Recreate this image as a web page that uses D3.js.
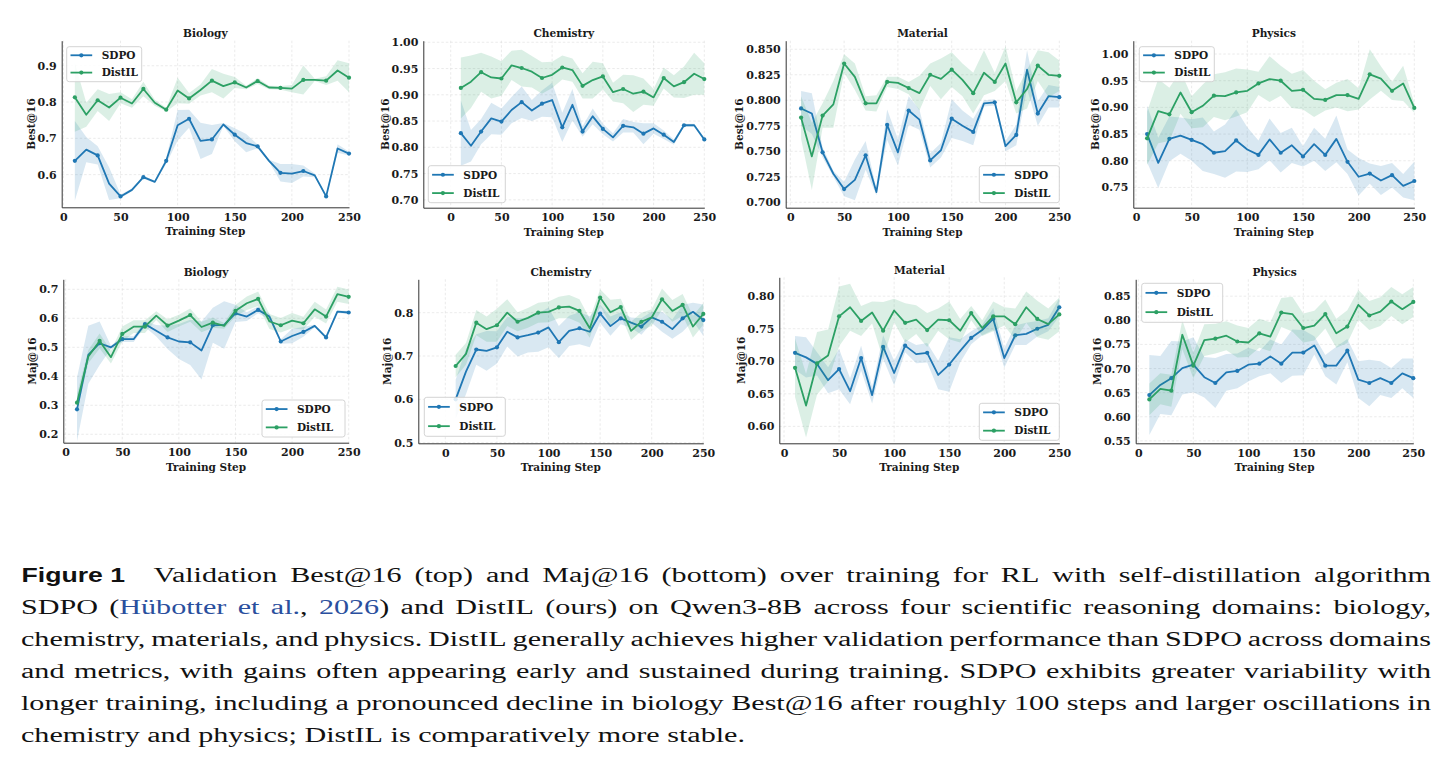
<!DOCTYPE html>
<html><head><meta charset="utf-8">
<script src="https://cdn.jsdelivr.net/npm/d3@7"></script>
<style>body{margin:0;background:#fff}svg{display:block}</style>
</head><body>
<svg id="c" width="1450" height="768"></svg>
<script>
// ---------------- DATA ----------------
const steps = [10,20,30,40,50,60,70,80,90,100,110,120,130,140,150,160,170,180,190,200,210,220,230,240,250];
const xTicks = [0,50,100,150,200,250];
const seriesNames = ["SDPO","DistIL"];
const panelTitles = ["Biology","Chemistry","Material","Physics"];
const metricLabels = ["Best@16","Maj@16"];

// Best@16 (top row)
const bioBestSDPO    = [0.638,0.669,0.653,0.575,0.540,0.558,0.593,0.580,0.638,0.736,0.754,0.693,0.697,0.738,0.710,0.687,0.678,0.638,0.605,0.603,0.610,0.598,0.540,0.672,0.658];
const bioBestSDPOsd  = [0.110,0.035,0.025,0.045,0.005,0.004,0.004,0.003,0.008,0.042,0.025,0.050,0.040,0.004,0.018,0.025,0.005,0.003,0.024,0.026,0.015,0.005,0.003,0.012,0.005];
const bioBestDistIL  = [0.813,0.765,0.805,0.785,0.812,0.796,0.836,0.798,0.779,0.832,0.810,0.833,0.859,0.844,0.854,0.840,0.858,0.840,0.839,0.837,0.861,0.861,0.859,0.887,0.867];
const bioBestDistILsd= [0.095,0.033,0.030,0.037,0.015,0.012,0.020,0.008,0.005,0.035,0.015,0.015,0.032,0.034,0.015,0.005,0.008,0.005,0.005,0.010,0.040,0.003,0.012,0.028,0.040];
const bioBestTicks   = [0.6,0.7,0.8,0.9];

const chemBestSDPO    = [0.827,0.803,0.830,0.855,0.849,0.871,0.886,0.870,0.883,0.890,0.838,0.881,0.830,0.859,0.835,0.819,0.841,0.838,0.826,0.836,0.824,0.810,0.842,0.842,0.815];
const chemBestSDPOsd  = [0.062,0.030,0.024,0.030,0.025,0.025,0.030,0.020,0.025,0.033,0.028,0.030,0.010,0.015,0.010,0.008,0.013,0.010,0.020,0.010,0.008,0.005,0.003,0.003,0.003];
const chemBestDistIL  = [0.913,0.925,0.943,0.933,0.931,0.956,0.951,0.944,0.932,0.938,0.952,0.947,0.917,0.928,0.935,0.905,0.911,0.902,0.906,0.895,0.932,0.916,0.924,0.940,0.930];
const chemBestDistILsd= [0.058,0.050,0.037,0.040,0.033,0.028,0.035,0.030,0.030,0.025,0.023,0.022,0.024,0.035,0.025,0.018,0.027,0.035,0.025,0.016,0.020,0.021,0.030,0.040,0.030];
const chemBestTicks   = [0.70,0.75,0.80,0.85,0.90,0.95,1.00];

const matBestSDPO    = [0.792,0.787,0.749,0.728,0.713,0.722,0.746,0.710,0.776,0.749,0.790,0.781,0.741,0.751,0.782,0.775,0.769,0.797,0.798,0.755,0.766,0.830,0.787,0.804,0.803];
const matBestSDPOsd  = [0.017,0.020,0.005,0.003,0.007,0.020,0.014,0.003,0.015,0.013,0.014,0.010,0.007,0.007,0.019,0.015,0.013,0.003,0.003,0.005,0.010,0.019,0.012,0.011,0.010];
const matBestDistIL  = [0.783,0.745,0.785,0.796,0.836,0.823,0.797,0.797,0.818,0.817,0.812,0.807,0.825,0.821,0.830,0.820,0.807,0.827,0.818,0.836,0.798,0.811,0.834,0.825,0.824];
const matBestDistILsd= [0.021,0.033,0.012,0.023,0.009,0.013,0.007,0.008,0.005,0.006,0.006,0.017,0.011,0.020,0.017,0.016,0.020,0.022,0.009,0.017,0.011,0.019,0.015,0.022,0.015];
const matBestTicks   = [0.700,0.725,0.750,0.775,0.800,0.825,0.850];

const physBestSDPO    = [0.850,0.796,0.841,0.847,0.839,0.831,0.815,0.818,0.838,0.821,0.811,0.840,0.815,0.829,0.808,0.831,0.811,0.841,0.798,0.770,0.776,0.763,0.773,0.753,0.762];
const physBestSDPOsd  = [0.053,0.047,0.042,0.034,0.039,0.050,0.040,0.050,0.058,0.042,0.027,0.039,0.037,0.033,0.019,0.031,0.030,0.044,0.023,0.035,0.019,0.027,0.023,0.022,0.036];
const physBestDistIL  = [0.842,0.893,0.887,0.928,0.891,0.903,0.922,0.921,0.928,0.931,0.945,0.953,0.950,0.931,0.933,0.916,0.914,0.923,0.923,0.916,0.962,0.954,0.931,0.945,0.899];
const physBestDistILsd= [0.050,0.060,0.050,0.040,0.030,0.040,0.040,0.045,0.045,0.040,0.022,0.043,0.028,0.032,0.037,0.034,0.020,0.023,0.030,0.020,0.047,0.023,0.017,0.033,0.009];
const physBestTicks   = [0.75,0.80,0.85,0.90,0.95,1.00];

// Maj@16 (bottom row)
const bioMajSDPO    = [0.286,0.474,0.514,0.500,0.528,0.528,0.580,0.557,0.534,0.520,0.517,0.489,0.576,0.577,0.617,0.606,0.629,0.606,0.520,0.539,0.553,0.574,0.534,0.623,0.620];
const bioMajSDPOsd  = [0.110,0.100,0.075,0.005,0.010,0.010,0.010,0.020,0.040,0.060,0.078,0.100,0.060,0.082,0.030,0.015,0.012,0.010,0.008,0.025,0.017,0.005,0.005,0.005,0.005];
const bioMajDistIL  = [0.309,0.468,0.522,0.466,0.546,0.571,0.571,0.609,0.575,0.592,0.611,0.570,0.585,0.574,0.626,0.652,0.667,0.589,0.576,0.592,0.583,0.631,0.606,0.683,0.674];
const bioMajDistILsd= [0.030,0.023,0.026,0.022,0.026,0.022,0.022,0.015,0.022,0.020,0.023,0.018,0.018,0.010,0.020,0.023,0.025,0.026,0.025,0.026,0.022,0.026,0.024,0.026,0.025];
const bioMajTicks   = [0.2,0.3,0.4,0.5,0.6,0.7];

const chemMajSDPO    = [0.600,0.664,0.715,0.712,0.720,0.756,0.743,0.748,0.754,0.766,0.732,0.758,0.764,0.756,0.798,0.769,0.787,0.777,0.768,0.789,0.779,0.762,0.787,0.802,0.783];
const chemMajSDPOsd  = [0.045,0.052,0.035,0.046,0.037,0.034,0.044,0.040,0.044,0.046,0.037,0.035,0.037,0.036,0.021,0.022,0.014,0.012,0.019,0.013,0.023,0.022,0.031,0.021,0.036];
const chemMajDistIL  = [0.677,0.705,0.777,0.762,0.771,0.800,0.779,0.788,0.800,0.802,0.812,0.814,0.804,0.764,0.835,0.801,0.813,0.758,0.779,0.789,0.831,0.804,0.818,0.768,0.797];
const chemMajDistILsd= [0.026,0.025,0.029,0.029,0.038,0.031,0.022,0.023,0.023,0.024,0.025,0.027,0.027,0.022,0.019,0.029,0.019,0.021,0.021,0.019,0.025,0.025,0.025,0.025,0.025];
const chemMajTicks   = [0.5,0.6,0.7,0.8];

const matMajSDPO    = [0.713,0.706,0.696,0.671,0.688,0.654,0.705,0.648,0.722,0.682,0.724,0.711,0.713,0.679,0.695,0.716,0.736,0.748,0.765,0.705,0.740,0.742,0.750,0.756,0.783];
const matMajSDPOsd  = [0.026,0.031,0.018,0.020,0.031,0.020,0.019,0.013,0.018,0.019,0.010,0.014,0.015,0.022,0.042,0.018,0.010,0.008,0.017,0.015,0.015,0.017,0.012,0.010,0.014];
const matMajDistIL  = [0.690,0.632,0.697,0.709,0.769,0.783,0.762,0.775,0.747,0.778,0.759,0.764,0.748,0.764,0.763,0.747,0.774,0.751,0.769,0.769,0.757,0.783,0.765,0.757,0.772];
const matMajDistILsd= [0.045,0.049,0.048,0.040,0.046,0.036,0.023,0.017,0.044,0.018,0.030,0.022,0.026,0.017,0.029,0.018,0.011,0.012,0.023,0.014,0.024,0.024,0.028,0.024,0.026];
const matMajTicks   = [0.60,0.65,0.70,0.75,0.80];

const physMajSDPO    = [0.645,0.666,0.680,0.701,0.708,0.682,0.670,0.692,0.695,0.708,0.710,0.725,0.710,0.733,0.733,0.748,0.706,0.706,0.737,0.677,0.670,0.680,0.670,0.690,0.680];
const physMajSDPOsd  = [0.083,0.060,0.077,0.055,0.057,0.042,0.052,0.038,0.036,0.035,0.026,0.035,0.040,0.048,0.047,0.019,0.022,0.039,0.024,0.038,0.048,0.035,0.031,0.031,0.041];
const physMajDistIL  = [0.636,0.658,0.654,0.770,0.706,0.759,0.762,0.768,0.756,0.754,0.773,0.766,0.816,0.813,0.784,0.789,0.813,0.773,0.787,0.832,0.810,0.818,0.839,0.823,0.838];
const physMajDistILsd= [0.033,0.032,0.033,0.030,0.026,0.033,0.031,0.030,0.033,0.030,0.030,0.030,0.030,0.036,0.030,0.031,0.030,0.030,0.034,0.031,0.030,0.030,0.030,0.031,0.031];
const physMajTicks   = [0.55,0.60,0.65,0.70,0.75,0.80,0.85];

// ---------------- LAYOUT / STYLE ----------------
const COLORS = {SDPO:"#1f77b4", DistIL:"#2ca064"};
const panels = [
 {title:panelTitles[0], ylab:metricLabels[0], s:[bioBestSDPO,bioBestSDPOsd], d:[bioBestDistIL,bioBestDistILsd], ticks:bioBestTicks, fmt:".1f",
  box:{l:61.7,r:349,t:40.7,b:207.3}, xd:[-1.5,250], yd:[0.51,0.969], leg:{x:66.7,y:46.7,w:75,h:35}},
 {title:panelTitles[1], ylab:metricLabels[0], s:[chemBestSDPO,chemBestSDPOsd], d:[chemBestDistIL,chemBestDistILsd], ticks:chemBestTicks, fmt:".2f",
  box:{l:423.3,r:704.3,t:40.7,b:207.7}, xd:[-27,250], yd:[0.685,1.003], leg:{x:428.3,y:165.7,w:77,h:37}},
 {title:panelTitles[2], ylab:metricLabels[0], s:[matBestSDPO,matBestSDPOsd], d:[matBestDistIL,matBestDistILsd], ticks:matBestTicks, fmt:".3f",
  box:{l:785.7,r:1059.3,t:40.7,b:207.7}, xd:[-4.3,250], yd:[0.6947,0.8584], leg:{x:979.3,y:165.7,w:80,h:37}},
 {title:panelTitles[3], ylab:metricLabels[0], s:[physBestSDPO,physBestSDPOsd], d:[physBestDistIL,physBestDistILsd], ticks:physBestTicks, fmt:".2f",
  box:{l:1133.3,r:1414.3,t:40.7,b:207.7}, xd:[-2.4,250], yd:[0.712,1.025], leg:{x:1139.3,y:46.7,w:75,h:35}},
 {title:panelTitles[0], ylab:metricLabels[1], s:[bioMajSDPO,bioMajSDPOsd], d:[bioMajDistIL,bioMajDistILsd], ticks:bioMajTicks, fmt:".1f",
  box:{l:63.3,r:348.7,t:279.3,b:442.7}, xd:[-2.1,250], yd:[0.171,0.7345], leg:{x:262,y:400,w:83,h:37}},
 {title:panelTitles[1], ylab:metricLabels[1], s:[chemMajSDPO,chemMajSDPOsd], d:[chemMajDistIL,chemMajDistILsd], ticks:chemMajTicks, fmt:".1f",
  box:{l:418.3,r:703.3,t:279.3,b:443.3}, xd:[-26.2,250], yd:[0.4986,0.877], leg:{x:424.3,y:397.3,w:81,h:39}},
 {title:panelTitles[2], ylab:metricLabels[1], s:[matMajSDPO,matMajSDPOsd], d:[matMajDistIL,matMajDistILsd], ticks:matMajTicks, fmt:".2f",
  box:{l:779.3,r:1059.3,t:277.3,b:443.3}, xd:[-4.3,250], yd:[0.574,0.829], leg:{x:979.3,y:403.3,w:80,h:37}},
 {title:panelTitles[3], ylab:metricLabels[1], s:[physMajSDPO,physMajSDPOsd], d:[physMajDistIL,physMajDistILsd], ticks:physMajTicks, fmt:".2f",
  box:{l:1135.7,r:1413.3,t:279.3,b:443.3}, xd:[-2.4,250], yd:[0.545,0.885], leg:{x:1141.7,y:283.3,w:81,h:39}}
];
const FONT = "'DejaVu Serif', serif";
const svg = d3.select("#c");

panels.forEach((p, pi) => {
  const B = p.box;
  const x = d3.scaleLinear().domain(p.xd).range([B.l, B.r]);
  const y = d3.scaleLinear().domain(p.yd).range([B.b, B.t]);
  const g = svg.append("g");
  const cid = "clip" + pi;
  g.append("clipPath").attr("id", cid).append("rect")
    .attr("x", B.l).attr("y", B.t).attr("width", B.r - B.l + 6).attr("height", B.b - B.t);

  // grid
  const grid = g.append("g").attr("stroke", "#dedede").attr("stroke-width", 0.6).attr("stroke-dasharray", "2.5,2");
  xTicks.forEach(t => grid.append("line").attr("x1", x(t)).attr("x2", x(t)).attr("y1", B.t).attr("y2", B.b));
  p.ticks.forEach(t => grid.append("line").attr("x1", B.l).attr("x2", B.r).attr("y1", y(t)).attr("y2", y(t)));

  const plot = g.append("g").attr("clip-path", `url(#${cid})`);
  [[p.s, "SDPO"], [p.d, "DistIL"]].forEach(([[mean, sd], name]) => {
    const col = COLORS[name];
    const area = d3.area().x((d, i) => x(steps[i])).y0((d, i) => y(mean[i] - sd[i])).y1((d, i) => y(mean[i] + sd[i]));
    plot.append("path").attr("d", area(mean)).attr("fill", col).attr("fill-opacity", 0.17).attr("stroke", "none");
    const line = d3.line().x((d, i) => x(steps[i])).y(d => y(d));
    plot.append("path").attr("d", line(mean)).attr("fill", "none").attr("stroke", col).attr("stroke-width", 1.8).attr("stroke-linejoin", "round");
    plot.selectAll(null).data(mean.map((v, i) => [steps[i], v]).filter((d, i) => i % 2 === 0))
      .join("circle").attr("cx", d => x(d[0])).attr("cy", d => y(d[1])).attr("r", 2.1).attr("fill", col);
  });

  // axes
  const ax = g.append("g").attr("transform", `translate(0,${B.b})`)
    .call(d3.axisBottom(x).tickValues(xTicks).tickFormat(d3.format("d")).tickSize(0).tickSizeOuter(0).tickPadding(5.5));
  const ay = g.append("g").attr("transform", `translate(${B.l},0)`)
    .call(d3.axisLeft(y).tickValues(p.ticks).tickFormat(d3.format(p.fmt)).tickSize(0).tickSizeOuter(0).tickPadding(5));
  [ax, ay].forEach(a => {
    a.select(".domain").attr("stroke", "#333").attr("stroke-width", 1);
    a.selectAll("text").attr("font-family", FONT).attr("font-weight", "bold").attr("font-size", 11).attr("fill", "#1a1a1a");
  });

  // title, axis labels
  const cx = (B.l + B.r) / 2;
  g.append("text").attr("x", cx).attr("y", B.t - 3.7).attr("text-anchor", "middle")
    .attr("font-family", FONT).attr("font-weight", "bold").attr("font-size", 10.6).attr("fill", "#1a1a1a").text(p.title);
  g.append("text").attr("x", cx).attr("y", B.b + 28).attr("text-anchor", "middle")
    .attr("font-family", FONT).attr("font-weight", "bold").attr("font-size", 10.5).attr("fill", "#1a1a1a").text("Training Step");
  let minX = Infinity;
  ay.selectAll(".tick text").each(function () { const bb = this.getBBox(); const m = this.getCTM(); minX = Math.min(minX, bb.x + m.e); });
  const ylx = minX - 6.5;
  const cy = (B.t + B.b) / 2;
  g.append("text").attr("transform", `translate(${ylx},${cy}) rotate(-90)`).attr("dy", "0.35em").attr("text-anchor", "middle")
    .attr("font-family", FONT).attr("font-weight", "bold").attr("font-size", 10.5).attr("fill", "#1a1a1a").text(p.ylab);

  // legend
  const L = p.leg;
  const lg = g.append("g");
  lg.append("rect").attr("x", L.x).attr("y", L.y).attr("width", L.w).attr("height", L.h).attr("rx", 2.5)
    .attr("fill", "#fff").attr("fill-opacity", 0.85).attr("stroke", "#cfcfcf").attr("stroke-width", 0.9);
  seriesNames.forEach((n, k) => {
    const ry = L.y + L.h * (k === 0 ? 0.245 : 0.74);
    lg.append("line").attr("x1", L.x + 3.8).attr("x2", L.x + 25.5).attr("y1", ry).attr("y2", ry).attr("stroke", COLORS[n]).attr("stroke-width", 1.8);
    lg.append("circle").attr("cx", L.x + 14.6).attr("cy", ry).attr("r", 2.1).attr("fill", COLORS[n]);
    lg.append("text").attr("x", L.x + 35).attr("y", ry).attr("dy", "0.36em")
      .attr("font-family", FONT).attr("font-weight", "bold").attr("font-size", 10.5).attr("fill", "#1a1a1a").text(n);
  });
});

// ---------------- CAPTION ----------------
const LINK = "#2a4f9e";
svg.append("text").attr("x", 21.5).attr("y", 582).attr("font-family", "'Liberation Sans', Arial, sans-serif")
  .attr("font-weight", "bold").attr("font-size", 21).attr("fill", "#111")
  .attr("textLength", 103.5).attr("lengthAdjust", "spacingAndGlyphs").text("Figure 1");

const capLines = [
  {x0:153.5, x1:1431, y:582, j:true, s:"Validation Best@16 (top) and Maj@16 (bottom) over training for RL with self-distillation algorithm"},
  {x0:21, x1:1431, y:614, j:true, s:"SDPO ({Hübotter} {et} {al.}, {2026}) and DistIL (ours) on Qwen3-8B across four scientific reasoning domains: biology,"},
  {x0:21, x1:1431, y:646, j:true, s:"chemistry, materials, and physics. DistIL generally achieves higher validation performance than SDPO across domains"},
  {x0:21, x1:1431, y:678, j:true, s:"and metrics, with gains often appearing early and sustained during training. SDPO exhibits greater variability with"},
  {x0:21, x1:1431, y:710, j:true, s:"longer training, including a pronounced decline in biology Best@16 after roughly 100 steps and larger oscillations in"},
  {x0:21, x1:745, y:742, j:false, s:"chemistry and physics; DistIL is comparatively more stable."}
];
const capG = svg.append("g").attr("font-family", "'Liberation Serif', 'Times New Roman', serif").attr("font-size", 20.5).attr("fill", "#111");
const SPACE = 20.5 * 0.25;
const built = capLines.map(L => {
  const words = L.s.split(" ").map(w => {
    const t = capG.append("text").attr("y", L.y);
    w.split(/(\{[^}]*\})/).filter(s => s.length).forEach(seg => {
      if (seg[0] === "{") t.append("tspan").attr("fill", LINK).text(seg.slice(1, -1));
      else t.append("tspan").text(seg);
    });
    return {t, w: t.node().getComputedTextLength()};
  });
  return {L, words};
});
// horizontal stretch from the last (unjustified) line
const last = built[built.length - 1];
const natLast = d3.sum(last.words, d => d.w) + SPACE * (last.words.length - 1);
const hs = (last.L.x1 - last.L.x0) / natLast;
built.forEach(({L, words}) => {
  let h = hs;
  const tot = d3.sum(words, d => d.w);
  let gap = SPACE * h;
  if (L.j) {
    gap = (L.x1 - L.x0 - tot * h) / (words.length - 1);
    if (gap < SPACE * 0.8) { h = (L.x1 - L.x0 - SPACE * 0.8 * (words.length - 1)) / tot; gap = SPACE * 0.8; }
  }
  let cx = L.x0;
  words.forEach(d => {
    d.t.attr("x", cx).attr("textLength", d.w * h).attr("lengthAdjust", "spacingAndGlyphs");
    cx += d.w * h + gap;
  });
});
</script>
</body></html>
